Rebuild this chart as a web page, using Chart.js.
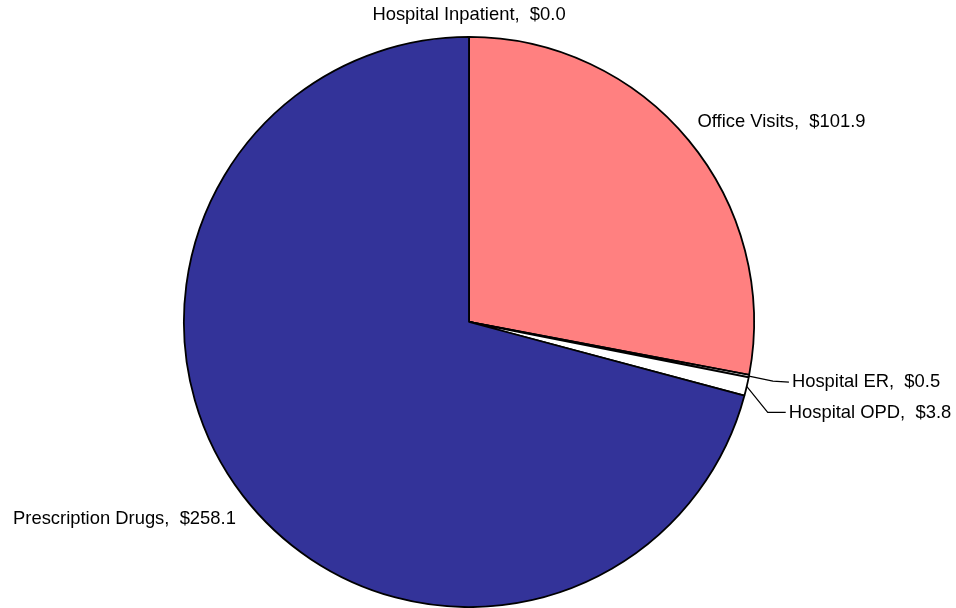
<!DOCTYPE html>
<html>
<head>
<meta charset="utf-8">
<script src="https://cdn.jsdelivr.net/npm/chart.js@4.4.0/dist/chart.umd.min.js"></script>
<style>
  html, body { margin: 0; padding: 0; background: #fff; }
  #wrap { width: 956px; height: 608px; }
</style>
</head>
<body>
<div id="wrap"><canvas id="pieChart" width="956" height="608"></canvas></div>
<script>
// datos del gráfico
const categories = ['Hospital Inpatient', 'Office Visits', 'Hospital ER', 'Hospital OPD', 'Prescription Drugs'];
const spending = [0.0, 101.9, 0.5, 3.8, 258.1];
const sliceColors = ['#FFFFCC', '#FF8080', '#FFFFFF', '#FFFFFF', '#333399'];

// posición de cada etiqueta respecto al borde de su porción
// [dx, dy, alineación, codo de la línea guía (o null)]
const labelPlacement = [
  [0, -22, 'center', null],
  [9, -18, 'left', null],
  [43, 6, 'left', [24, 5]],
  [42, 26, 'left', [21, 26]],
  [-7, 23, 'right', null]
];

const pieLabels = {
  id: 'pieLabels',
  afterDatasetsDraw(chart) {
    const ctx = chart.ctx;
    const arcs = chart.getDatasetMeta(0).data;
    ctx.save();
    ctx.font = '18.4px "Liberation Sans", Arial, sans-serif';
    ctx.fillStyle = '#000';
    ctx.strokeStyle = '#000';
    ctx.lineWidth = 1.2;
    ctx.textBaseline = 'middle';
    arcs.forEach((arc, i) => {
      const mid = (arc.startAngle + arc.endAngle) / 2;
      const px = arc.x + Math.cos(mid) * arc.outerRadius;
      const py = arc.y + Math.sin(mid) * arc.outerRadius;
      const [dx, dy, align, elbow] = labelPlacement[i];
      const tx = px + dx, ty = py + dy;
      if (elbow) {
        ctx.beginPath();
        ctx.moveTo(px, py);
        ctx.lineTo(px + elbow[0], py + elbow[1]);
        ctx.lineTo(tx - 3, ty);
        ctx.stroke();
      }
      ctx.textAlign = align;
      ctx.fillText(categories[i] + ',  $' + spending[i].toFixed(1), tx, ty);
    });
    ctx.restore();
  }
};

new Chart(document.getElementById('pieChart').getContext('2d'), {
  type: 'pie',
  data: {
    labels: categories,
    datasets: [{
      data: spending,
      backgroundColor: sliceColors,
      borderColor: '#000',
      borderWidth: 1.8,
      borderAlign: 'center'
    }]
  },
  options: {
    responsive: false,
    animation: false,
    layout: { padding: { top: 36, bottom: 0, left: 183, right: 201 } },
    plugins: {
      legend: { display: false },
      tooltip: { enabled: false }
    }
  },
  plugins: [pieLabels]
});
</script>
</body>
</html>
